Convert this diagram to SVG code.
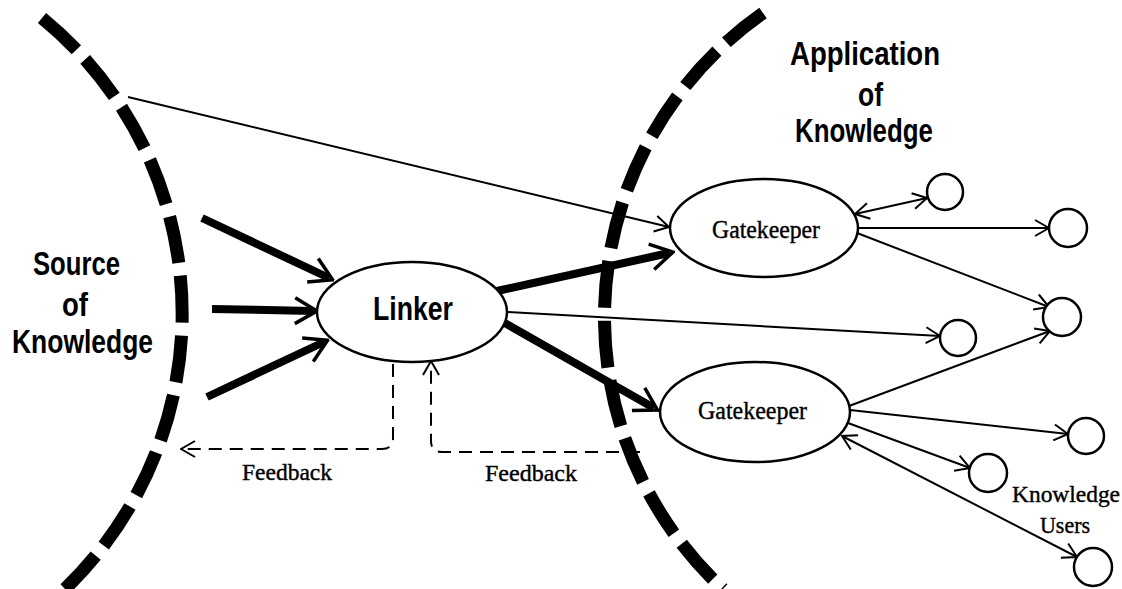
<svg xmlns="http://www.w3.org/2000/svg" width="1122" height="589" viewBox="0 0 1122 589">
  <style>
    .bound { fill: none; stroke: #000; stroke-width: 13; stroke-dasharray: 47 13; }
    .node { fill: #fff; stroke: #000; stroke-width: 2.5; }
    .user { fill: #fff; stroke: #000; stroke-width: 2.5; }
    .thin { fill: none; stroke: #000; stroke-width: 2; }
    .thick { fill: none; stroke: #000; stroke-width: 8; }
    .fb { fill: none; stroke: #000; stroke-width: 2; stroke-dasharray: 13 8; }
    .big { font-family: "Liberation Sans", Arial, sans-serif; font-weight: bold; font-size: 34px; fill: #000; }
    .ser { font-family: "Liberation Serif", "Times New Roman", serif; font-size: 24px; fill: #000; stroke: #000; stroke-width: 0.4; }
    .gk { font-size: 26px; }
  </style>
  <defs>
    <marker id="ah" viewBox="0 0 16 18" refX="15" refY="9" markerWidth="16" markerHeight="18" orient="auto-start-reverse" markerUnits="userSpaceOnUse">
      <path d="M1,1 L15,9 L1,17" fill="none" stroke="#000" stroke-width="2"/>
    </marker>
    <marker id="ahk" viewBox="0 0 26 30" refX="20" refY="15" markerWidth="26" markerHeight="30" orient="auto" markerUnits="userSpaceOnUse">
      <path d="M2,2 L24,15 L2,28" fill="none" stroke="#000" stroke-width="3.5"/>
    </marker>
  </defs>

  <g id="boundaries">
    <path id="source-boundary" class="bound" d="M42,18 A382,382 0 0,1 65,589"/>
    <path id="application-boundary" class="bound" d="M763,13 A371,371 0 0,0 723,589"/>
  </g>

  <g id="connectors">
    <line class="thin" x1="128" y1="97" x2="669" y2="227" marker-end="url(#ah)"/>
    <line class="thick" x1="202" y1="218" x2="329" y2="278" marker-end="url(#ahk)"/>
    <line class="thick" x1="212" y1="309" x2="313" y2="311" marker-end="url(#ahk)"/>
    <line class="thick" x1="207" y1="397" x2="324" y2="342" marker-end="url(#ahk)"/>
    <line class="thick" x1="497" y1="291" x2="669" y2="253" marker-end="url(#ahk)"/>
    <line class="thick" x1="503" y1="322" x2="654" y2="408" marker-end="url(#ahk)"/>
    <line class="thin" x1="507" y1="312" x2="940" y2="336" marker-end="url(#ah)"/>
    <line class="thin" x1="855" y1="214" x2="927" y2="198" marker-start="url(#ah)" marker-end="url(#ah)"/>
    <line class="thin" x1="858" y1="228" x2="1049" y2="228" marker-end="url(#ah)"/>
    <line class="thin" x1="857" y1="233" x2="1049" y2="307" marker-end="url(#ah)"/>
    <line class="thin" x1="849" y1="406" x2="1050" y2="331" marker-end="url(#ah)"/>
    <line class="thin" x1="850" y1="410" x2="1068" y2="434" marker-end="url(#ah)"/>
    <line class="thin" x1="848" y1="423" x2="970" y2="468" marker-end="url(#ah)"/>
    <line class="thin" x1="842" y1="436" x2="1077" y2="557" marker-start="url(#ah)" marker-end="url(#ah)"/>
    <path class="fb" d="M393,364 L393,438 Q393,449 382,449 L181,449" marker-end="url(#ah)"/>
    <path class="fb" d="M640,452 L442,452 Q431,452 431,441 L431,361" marker-end="url(#ah)"/>
    <text class="ser" x="242" y="480" textLength="90" lengthAdjust="spacingAndGlyphs">Feedback</text>
    <text class="ser" x="485" y="481" textLength="92" lengthAdjust="spacingAndGlyphs">Feedback</text>
  </g>

  <g id="source-label">
    <text class="big" x="33" y="275" textLength="87" lengthAdjust="spacingAndGlyphs">Source</text>
    <text class="big" x="62" y="316" textLength="26" lengthAdjust="spacingAndGlyphs">of</text>
    <text class="big" x="12" y="353" textLength="141" lengthAdjust="spacingAndGlyphs">Knowledge</text>
  </g>

  <g id="application-label">
    <text class="big" x="790" y="65" textLength="150" lengthAdjust="spacingAndGlyphs">Application</text>
    <text class="big" x="858" y="106" textLength="25" lengthAdjust="spacingAndGlyphs">of</text>
    <text class="big" x="795" y="142" textLength="138" lengthAdjust="spacingAndGlyphs">Knowledge</text>
  </g>

  <g id="linker">
    <ellipse class="node" cx="412" cy="312" rx="95" ry="50"/>
    <text class="big" x="373" y="320" textLength="80" lengthAdjust="spacingAndGlyphs">Linker</text>
  </g>

  <g id="gatekeeper-top">
    <ellipse class="node" cx="764" cy="228" rx="94" ry="49"/>
    <text class="ser gk" x="712" y="238" textLength="108" lengthAdjust="spacingAndGlyphs">Gatekeeper</text>
  </g>

  <g id="gatekeeper-bottom">
    <ellipse class="node" cx="755" cy="412" rx="95" ry="50"/>
    <text class="ser gk" x="698" y="419" textLength="109" lengthAdjust="spacingAndGlyphs">Gatekeeper</text>
  </g>

  <g id="user-1"><circle class="user" cx="945" cy="192" r="18"/></g>
  <g id="user-2"><circle class="user" cx="1068" cy="228" r="19"/></g>
  <g id="user-3"><circle class="user" cx="1062" cy="317" r="19"/></g>
  <g id="user-4"><circle class="user" cx="958" cy="338" r="18"/></g>
  <g id="user-5"><circle class="user" cx="1086" cy="436" r="18"/></g>
  <g id="user-6"><circle class="user" cx="988" cy="473" r="19"/></g>
  <g id="user-7"><circle class="user" cx="1093" cy="567" r="19"/></g>

  <g id="users-label">
    <text class="ser" x="1012" y="502" textLength="108" lengthAdjust="spacingAndGlyphs">Knowledge</text>
    <text class="ser" x="1040" y="533" textLength="50" lengthAdjust="spacingAndGlyphs">Users</text>
  </g>
</svg>
